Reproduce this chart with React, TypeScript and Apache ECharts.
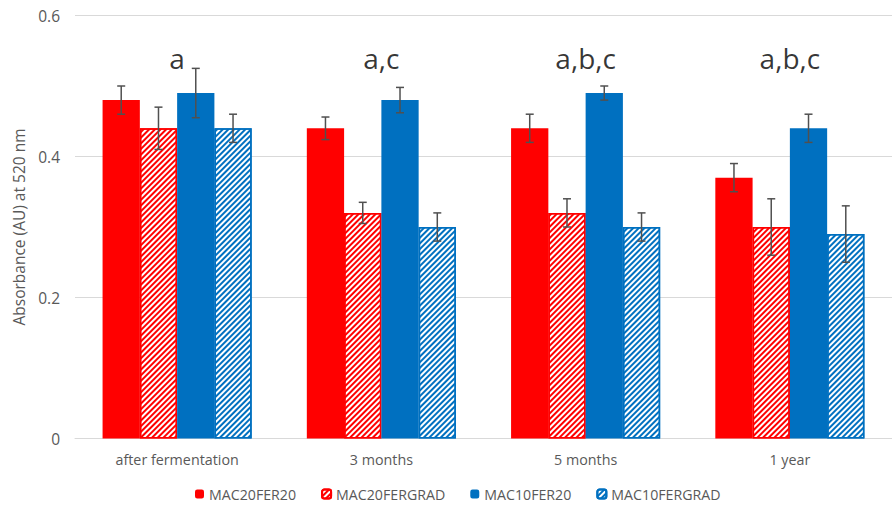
import React, { useEffect, useRef } from "react";
import * as echarts from "echarts";

const categories = ["after fermentation", "3 months", "5 months", "1 year"];
const seriesNames = ["MAC20FER20", "MAC20FERGRAD", "MAC10FER20", "MAC10FERGRAD"];
const mac20fer20 = [0.48, 0.44, 0.44, 0.37];
const mac20fergrad = [0.44, 0.32, 0.32, 0.3];
const mac10fer20 = [0.49, 0.48, 0.49, 0.44];
const mac10fergrad = [0.44, 0.3, 0.3, 0.29];
const mac20fer20Err = [0.02, 0.016, 0.02, 0.02];
const mac20fergradErr = [0.03, 0.015, 0.02, 0.04];
const mac10fer20Err = [0.035, 0.018, 0.01, 0.02];
const mac10fergradErr = [0.02, 0.02, 0.02, 0.04];
const groupLabels = ["a", "a,c", "a,b,c", "a,b,c"];
const groupLabelY = [0.54, 0.54, 0.54, 0.54];

const RED = "#FF0000";
const BLUE = "#0070C0";
const GRAY = "#595959";
const CAT_GAP = 0.27;
const FONT = "'Open Sans', sans-serif";

export default function App() {
  const ref = useRef<HTMLDivElement>(null);
  useEffect(() => {
    if (!ref.current) return;
    const chart = echarts.init(ref.current, undefined, { renderer: "svg" });
    const values = [mac20fer20, mac20fergrad, mac10fer20, mac10fergrad];
    const errs = [mac20fer20Err, mac20fergradErr, mac10fer20Err, mac10fergradErr];
    const colors = [RED, RED, BLUE, BLUE];
    const hatched = [false, true, false, true];

    const errData: number[][] = [];
    values.forEach((arr, s) => {
      arr.forEach((v, i) => {
        errData.push([i, s, v - errs[s][i], v + errs[s][i]]);
      });
    });

    const barSeries = values.map((arr, s) => ({
      name: seriesNames[s],
      type: "bar",
      data: arr,
      barGap: "0%",
      barCategoryGap: CAT_GAP * 100 + "%",
      itemStyle: hatched[s]
        ? {
            color: "#ffffff",
            borderColor: colors[s],
            borderWidth: 1.5,
            decal: {
              symbol: "rect",
              symbolSize: 1,
              dashArrayX: [1, 0],
              dashArrayY: [2, 2],
              rotation: -Math.PI / 4,
              color: colors[s],
            },
          }
        : { color: colors[s] },
    }));

    chart.setOption({
      animation: false,
      textStyle: { fontFamily: FONT },
      grid: { left: 75, top: 15.5, bottom: 67.5, width: 826, containLabel: false },
      legend: {
        data: seriesNames,
        left: 195,
        top: 487,
        padding: 0,
        itemWidth: 9,
        itemHeight: 9,
        itemGap: 25,
        textStyle: { color: GRAY, fontSize: 14.2, fontFamily: FONT },
      },
      xAxis: {
        type: "category",
        data: categories,
        axisLine: { lineStyle: { color: "#d9d9d9" } },
        axisTick: { show: false },
        axisLabel: { color: GRAY, fontSize: 14.3, margin: 14, fontFamily: FONT },
      },
      yAxis: {
        type: "value",
        min: 0,
        max: 0.6,
        interval: 0.2,
        name: "Absorbance (AU) at 520 nm",
        nameLocation: "middle",
        nameGap: 43,
        nameTextStyle: { color: GRAY, fontSize: 15.5, fontFamily: FONT },
        axisLabel: {
          color: GRAY,
          fontSize: 15.5,
          margin: 15,
          fontFamily: FONT,
          formatter: (v: number) => (v === 0 ? "0" : v.toFixed(1)),
        },
        splitLine: { lineStyle: { color: "#d9d9d9", width: 1 } },
      },
      series: [
        ...barSeries,
        {
          name: "err",
          type: "custom",
          data: errData,
          z: 10,
          renderItem: (params: any, api: any) => {
            const cat = api.value(0);
            const s = api.value(1);
            const lo = api.value(2);
            const hi = api.value(3);
            const catW = api.size([1, 0])[0];
            const barW = (catW * (1 - CAT_GAP)) / 4;
            const c = api.coord([cat, 0]);
            const x = c[0] + (s - 1.5) * barW;
            const yLo = api.coord([cat, lo])[1];
            const yHi = api.coord([cat, hi])[1];
            const st = { stroke: "#505050", lineWidth: 1.5 };
            return {
              type: "group",
              children: [
                { type: "line", shape: { x1: x, y1: yLo, x2: x, y2: yHi }, style: st },
                { type: "line", shape: { x1: x - 4, y1: yLo, x2: x + 4, y2: yLo }, style: st },
                { type: "line", shape: { x1: x - 4, y1: yHi, x2: x + 4, y2: yHi }, style: st },
              ],
            };
          },
        },
        {
          name: "labels",
          type: "scatter",
          data: groupLabelY.map((v, i) => [i, v]),
          symbolSize: 1,
          itemStyle: { color: "rgba(0,0,0,0)" },
          label: {
            show: true,
            position: "inside",
            formatter: (p: any) => groupLabels[p.dataIndex],
            fontSize: 28,
            color: "#000",
            fontFamily: FONT,
          },
          z: 11,
        },
      ],
    });
    return () => chart.dispose();
  }, []);
  return (
    <div
      ref={ref}
      style={{ position: "fixed", left: 0, top: 0, width: 892, height: 506, background: "#fff" }}
    />
  );
}
